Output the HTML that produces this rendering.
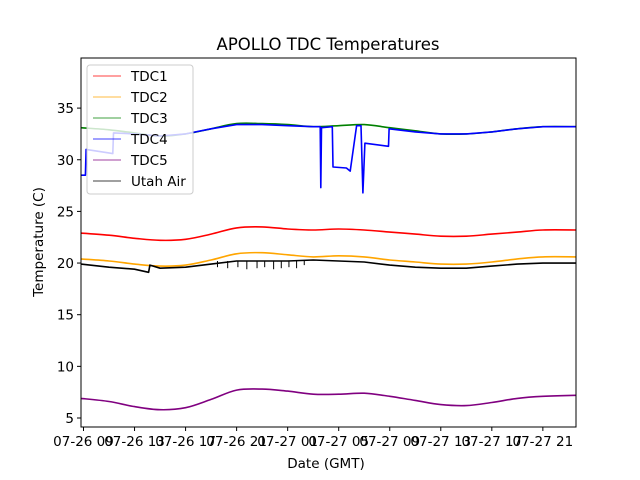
<!DOCTYPE html>
<html><head><meta charset="utf-8"><style>
html,body{margin:0;padding:0;background:#fff;}
svg{display:block;font-family:"DejaVu Sans","Liberation Sans",sans-serif;}
</style></head><body>
<svg id="chart" width="640" height="480" viewBox="0 0 640 480">
<rect width="640" height="480" fill="#fff"/>
<text x="328" y="50" font-size="16.5" text-anchor="middle">APOLLO TDC Temperatures</text>
<g id="series"></g>
<rect x="81" y="58" width="495" height="369" fill="none" stroke="#000" stroke-width="1"/>
<g id="axes" font-size="13.5"></g>
<text x="326" y="468" font-size="13.5" text-anchor="middle">Date (GMT)</text>
<text transform="translate(43,242) rotate(-90)" font-size="13.5" text-anchor="middle">Temperature (C)</text>
<g id="legend"></g>
</svg>
<script>
const xTickLabels = ["07-26 09","07-26 13","07-26 17","07-26 21","07-27 01","07-27 05","07-27 09","07-27 13","07-27 17","07-27 21"];
const xTickHours = [0,4,8,12,16,20,24,28,32,36];
const yTicks = [5,10,15,20,25,30,35];
const times = [-0.2,2,4,6,8,10,12,14,16,18,20,22,24,26,28,30,32,34,36,38.6];
const tdc1 = [22.9,22.7,22.4,22.2,22.3,22.8,23.4,23.5,23.3,23.2,23.3,23.2,23.0,22.8,22.6,22.6,22.8,23.0,23.2,23.2];
const tdc2 = [20.4,20.2,19.9,19.7,19.8,20.3,20.9,21.0,20.8,20.6,20.7,20.6,20.3,20.1,19.9,19.9,20.1,20.4,20.6,20.6];
const tdc3 = [33.1,32.9,32.6,32.3,32.5,33.0,33.5,33.5,33.4,33.2,33.3,33.4,33.1,32.8,32.5,32.5,32.7,33.0,33.2,33.2];
const tdc5 = [6.9,6.6,6.1,5.8,6.0,6.8,7.7,7.8,7.6,7.3,7.3,7.4,7.1,6.7,6.3,6.2,6.5,6.9,7.1,7.2];
const tdc4Times = [-0.2,0.15,0.2,2.3,2.35,4,6,8,10,12,14,16,18,18.55,18.6,18.65,19.5,19.55,20.6,20.9,21.4,21.75,21.9,22.05,23.9,23.95,26,28,30,32,34,36,38.6];
const tdc4 = [28.5,28.5,31.0,30.6,32.6,32.5,32.3,32.5,33.0,33.4,33.4,33.3,33.2,33.2,27.3,33.1,33.2,29.3,29.2,28.9,33.3,33.3,26.8,31.6,31.3,33.0,32.7,32.5,32.5,32.7,33.0,33.2,33.2];
const airTimes = [-0.2,2,4,5.1,5.2,6,8,10,12,14,16,18,20,22,24,26,28,30,32,34,36,38.6];
const air = [19.9,19.6,19.4,19.1,19.8,19.5,19.6,19.9,20.2,20.2,20.2,20.3,20.2,20.1,19.8,19.6,19.5,19.5,19.7,19.9,20.0,20.0];
const airDipHours = [10.5,11.3,12.1,12.8,13.6,14.2,14.9,15.5,16.1,16.7,17.3];
const airDipValues = [19.6,19.5,19.6,19.4,19.5,19.6,19.4,19.5,19.6,19.5,19.8];

const X0=83.5, PXH=12.76;
const xs = h => X0 + h*PXH;
const ys = v => 418 - (v-5)*10.33;
const NS="http://www.w3.org/2000/svg";
function mk(tag, attrs, parent){const e=document.createElementNS(NS,tag);for(const k in attrs)e.setAttribute(k,attrs[k]);parent.appendChild(e);return e;}
const axes=document.getElementById('axes'), series=document.getElementById('series'), legend=document.getElementById('legend');

xTickHours.forEach((h,i)=>{
  const t=mk('line',{x1:xs(h),x2:xs(h),y1:427,y2:431,stroke:'#000'},axes);
  
  
  const l=mk('text',{x:xs(h),y:446,'text-anchor':'middle'},axes);
  l.textContent=xTickLabels[i];
  
  
});
yTicks.forEach(v=>{
  const t=mk('line',{x1:77,x2:81,y1:ys(v),y2:ys(v),stroke:'#000'},axes);
  
  
  const l=mk('text',{x:74,y:ys(v)+5,'text-anchor':'end'},axes);
  l.textContent=v;
  
  
});

function smoothPath(tArr,vArr){
  const P=tArr.map((t,i)=>[xs(t),ys(vArr[i])]);
  let d='M'+P[0][0].toFixed(1)+','+P[0][1].toFixed(1);
  for(let i=0;i<P.length-1;i++){
    const p0=P[Math.max(0,i-1)],p1=P[i],p2=P[i+1],p3=P[Math.min(P.length-1,i+2)];
    const c1=[p1[0]+(p2[0]-p0[0])/6,p1[1]+(p2[1]-p0[1])/6];
    const c2=[p2[0]-(p3[0]-p1[0])/6,p2[1]-(p3[1]-p1[1])/6];
    d+=' C'+c1[0].toFixed(1)+','+c1[1].toFixed(1)+' '+c2[0].toFixed(1)+','+c2[1].toFixed(1)+' '+p2[0].toFixed(1)+','+p2[1].toFixed(1);
  }
  return d;
}
function line(tArr,vArr,color,name,smooth){
  const d=smooth?smoothPath(tArr,vArr):tArr.map((t,i)=>(i?'L':'M')+xs(t).toFixed(1)+','+ys(vArr[i]).toFixed(1)).join(' ');
  const p=mk('path',{d:d,fill:'none',stroke:color,'stroke-width':1.6,'stroke-linejoin':'round'},series);
  
  
}
line(times,tdc1,'#ff0000','tdc1-line',true);
line(times,tdc2,'#ffa500','tdc2-line',true);
line(times,tdc3,'#008000','tdc3-line',true);
line(tdc4Times,tdc4,'#0000ff','tdc4-line',false);
line(times,tdc5,'#800080','tdc5-line',true);
line(airTimes,air,'#000000','utah-air-line',false);
airDipHours.forEach((h,i)=>{
  const d=mk('line',{x1:xs(h),x2:xs(h),y1:ys(20.2),y2:ys(airDipValues[i]),stroke:'#000','stroke-width':1},series);
  
  
});

const lg=mk('rect',{x:87,y:65,width:106,height:129,rx:3,fill:'#fff','fill-opacity':0.8,stroke:'#ccc'},legend);


const names=['TDC1','TDC2','TDC3','TDC4','TDC5','Utah Air'];
const colors=['#ff0000','#ffa500','#008000','#0000ff','#800080','#000000'];
names.forEach((n,i)=>{
  const y=76+i*21;
  const g=mk('g',{},legend);
  
  
  mk('line',{x1:93,x2:121,y1:y,y2:y,stroke:colors[i],'stroke-width':0.8},g);
  const t=mk('text',{x:131,y:y+5,'font-size':13.5},g);
  t.textContent=n;
});
</script>
</body></html>
